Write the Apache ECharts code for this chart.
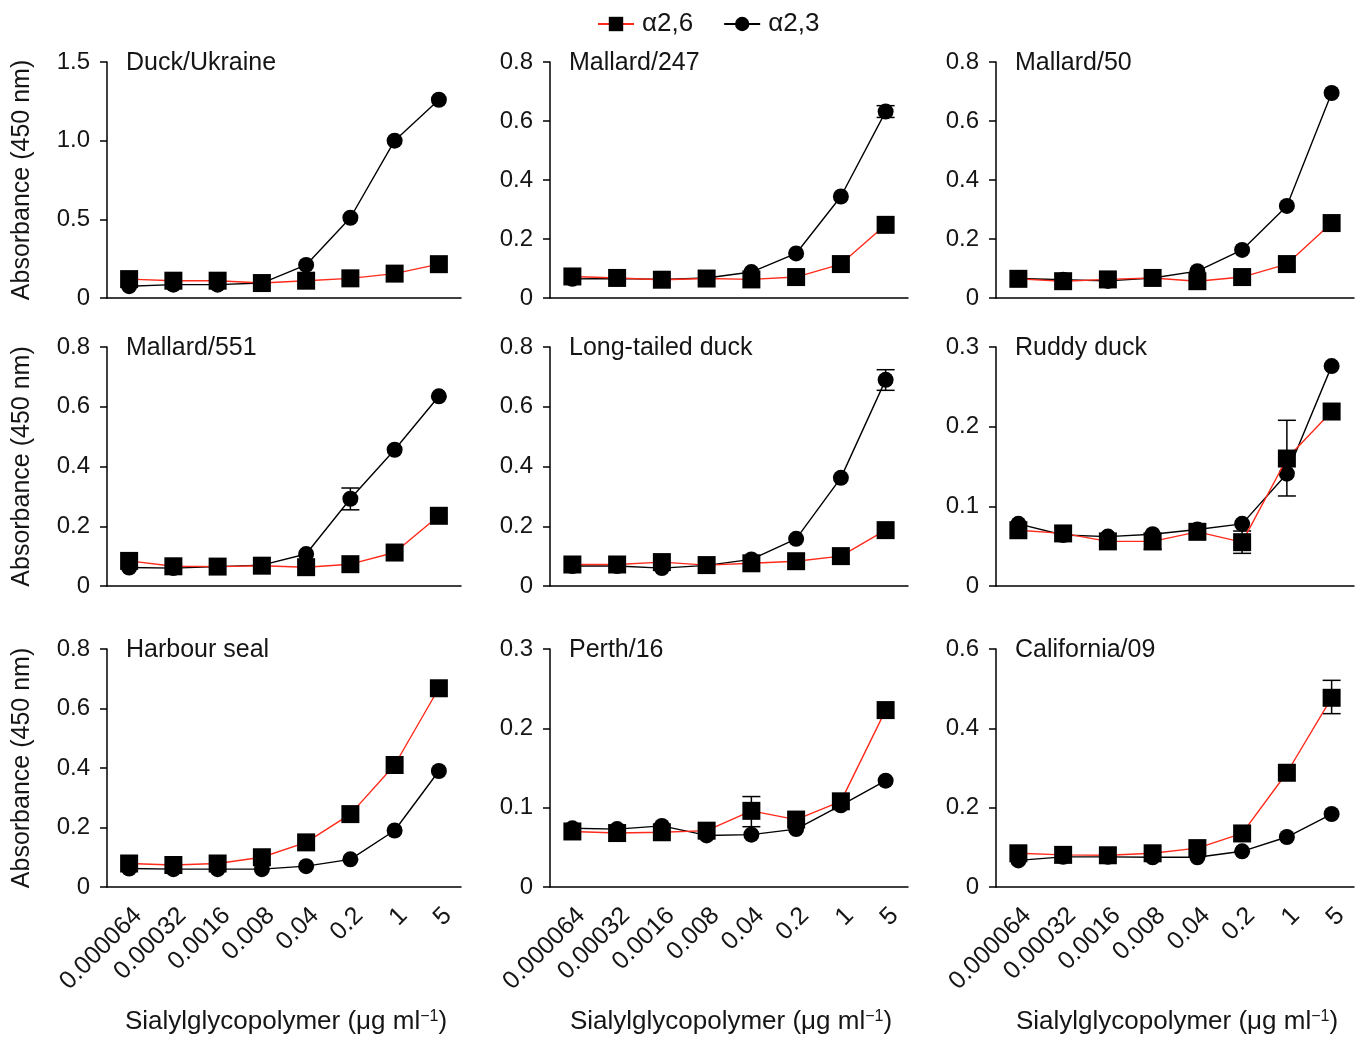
<!DOCTYPE html>
<html><head><meta charset="utf-8">
<script src="https://cdn.jsdelivr.net/npm/echarts@6/dist/echarts.min.js"></script>
<style>html,body{margin:0;padding:0;background:#fff}#c{width:1360px;height:1038px}</style>
</head><body><div id="c"></div>
<script>
const categories = ['0.000064','0.00032','0.0016','0.008','0.04','0.2','1','5'];
const panelNames = ['Duck/Ukraine','Mallard/247','Mallard/50','Mallard/551','Long-tailed duck','Ruddy duck','Harbour seal','Perth/16','California/09'];
const yMax  = [1.5,0.8,0.8,0.8,0.8,0.3,0.8,0.3,0.6];
const yStep = [0.5,0.2,0.2,0.2,0.2,0.1,0.2,0.1,0.2];

const duckUkraine_a26 = [0.12,0.11,0.11,0.095,0.11,0.125,0.155,0.215];
const duckUkraine_a23 = [0.075,0.085,0.085,0.095,0.21,0.51,1.0,1.26];
const mallard247_a26 = [0.073,0.068,0.062,0.066,0.063,0.071,0.115,0.248];
const mallard247_a23 = [0.065,0.066,0.063,0.068,0.088,0.151,0.344,0.632];
const mallard50_a26 = [0.065,0.057,0.063,0.068,0.057,0.071,0.115,0.254];
const mallard50_a23 = [0.066,0.062,0.058,0.068,0.091,0.163,0.312,0.695];
const mallard551_a26 = [0.084,0.066,0.065,0.068,0.063,0.073,0.112,0.235];
const mallard551_a23 = [0.062,0.06,0.065,0.07,0.107,0.292,0.456,0.635];
const longTailed_a26 = [0.072,0.072,0.08,0.07,0.076,0.083,0.1,0.187];
const longTailed_a23 = [0.067,0.067,0.06,0.069,0.089,0.158,0.362,0.69];
const ruddy_a26 = [0.07,0.066,0.056,0.056,0.068,0.055,0.16,0.219];
const ruddy_a23 = [0.078,0.064,0.062,0.065,0.071,0.078,0.141,0.276];
const harbour_a26 = [0.079,0.074,0.079,0.1,0.15,0.245,0.41,0.668];
const harbour_a23 = [0.062,0.06,0.06,0.06,0.07,0.093,0.19,0.39];
const perth_a26 = [0.07,0.068,0.069,0.071,0.096,0.085,0.108,0.223];
const perth_a23 = [0.074,0.073,0.077,0.065,0.066,0.073,0.103,0.134];
const california_a26 = [0.085,0.081,0.08,0.085,0.098,0.135,0.288,0.477];
const california_a23 = [0.067,0.076,0.076,0.075,0.075,0.09,0.126,0.184];

// error bars: [category index, low, high]
const mallard247_a23_err = [[7,0.612,0.652]];
const mallard551_a23_err = [[5,0.255,0.328]];
const longTailed_a23_err = [[7,0.655,0.724]];
const ruddy_a26_err = [[3,0.046,0.066],[5,0.041,0.069],[6,0.113,0.208]];
const perth_a26_err = [[4,0.076,0.114]];
const california_a26_err = [[7,0.437,0.521]];

const a26Data = [duckUkraine_a26,mallard247_a26,mallard50_a26,mallard551_a26,longTailed_a26,ruddy_a26,harbour_a26,perth_a26,california_a26];
const a23Data = [duckUkraine_a23,mallard247_a23,mallard50_a23,mallard551_a23,longTailed_a23,ruddy_a23,harbour_a23,perth_a23,california_a23];
const errData = [
  {i:1, d:mallard247_a23_err},{i:3, d:mallard551_a23_err},{i:4, d:longTailed_a23_err},
  {i:5, d:ruddy_a26_err},{i:7, d:perth_a26_err},{i:8, d:california_a26_err}
];

const FONT = 'Liberation Sans, Arial, Helvetica, sans-serif';
const TXT = '#151515';
const RED = '#ff2a1a';
const colX = [[107,461],[550,908],[996,1354]];
const rowY = [[62,298],[347,586],[649,887]];

const grid=[], xAxis=[], yAxis=[], series=[], graphic=[];
for (let p=0;p<9;p++){
  const r=Math.floor(p/3), c=p%3;
  grid.push({left:colX[c][0], width:colX[c][1]-colX[c][0], top:rowY[r][0], height:rowY[r][1]-rowY[r][0]});
  xAxis.push({type:'category', gridIndex:p, data:categories, boundaryGap:true,
    axisLine:{lineStyle:{color:'#000',width:1.5}},
    axisTick:{alignWithLabel:true, length:9, lineStyle:{color:'#000',width:1.5}},
    axisLabel:{show:r===2, rotate:45, fontSize:25, fontFamily:FONT, color:TXT, margin:16,
      verticalAlign:'top', interval:0},
    splitLine:{show:false}});
  yAxis.push({type:'value', gridIndex:p, min:0, max:yMax[p], interval:yStep[p],
    axisLine:{show:true, lineStyle:{color:'#000',width:1.5}},
    axisTick:{show:true, length:7, lineStyle:{color:'#000',width:1.5}},
    axisLabel:{fontSize:24, fontFamily:FONT, color:TXT, margin:17,
      formatter:v=> v===0?'0':v.toFixed(1)},
    splitLine:{show:false}});
  series.push({name:'α2,3', type:'line', xAxisIndex:p, yAxisIndex:p, data:a23Data[p],
    symbol:'circle', symbolSize:16, itemStyle:{color:'#000'}, lineStyle:{color:'#000',width:1.4},
    z:3, animation:false});
  series.push({name:'α2,6', type:'line', xAxisIndex:p, yAxisIndex:p, data:a26Data[p],
    symbol:'rect', symbolSize:18, itemStyle:{color:'#000'}, lineStyle:{color:RED,width:1.4},
    z:4, animation:false});
  graphic.push({type:'text', x:colX[c][0]+19, y:rowY[r][0]+1,
    style:{text:panelNames[p], font:'25px '+FONT, fill:TXT, verticalAlign:'middle'}});
}
errData.forEach(e=>{
  series.push({type:'custom', xAxisIndex:e.i, yAxisIndex:e.i, data:e.d, z:2, animation:false,
    renderItem:(params,api)=>{
      const lo=api.coord([api.value(0),api.value(1)]);
      const hi=api.coord([api.value(0),api.value(2)]);
      const w=9;
      const st={stroke:'#000',lineWidth:1.5};
      return {type:'group',children:[
        {type:'line',shape:{x1:lo[0],y1:lo[1],x2:hi[0],y2:hi[1]},style:st},
        {type:'line',shape:{x1:lo[0]-w,y1:lo[1],x2:lo[0]+w,y2:lo[1]},style:st},
        {type:'line',shape:{x1:hi[0]-w,y1:hi[1],x2:hi[0]+w,y2:hi[1]},style:st}
      ]};
    }});
});
// y axis titles
for (let r=0;r<3;r++){
  graphic.push({type:'text', x:22, y:(rowY[r][0]+rowY[r][1])/2, rotation:Math.PI/2,
    style:{text:'Absorbance (450 nm)', font:'25px '+FONT, fill:TXT, align:'center', verticalAlign:'middle'}});
}
// x axis titles
for (let c=0;c<3;c++){
  graphic.push({type:'text', x:(colX[c][0]+colX[c][1])/2 + 2, y:1022,
    style:{text:'Sialylglycopolymer (μg ml{sup|−1})', font:'26px '+FONT, fill:TXT, align:'center', verticalAlign:'middle',
      rich:{sup:{fontSize:16, verticalAlign:'top', padding:[0,0,10,0], fontFamily:FONT, fill:TXT}}}});
}

const chart = echarts.init(document.getElementById('c'));
chart.setOption({
  animation:false,
  backgroundColor:'#fff',
  legend:{data:['α2,6','α2,3'], top:6, left:592, itemWidth:36, itemHeight:18, itemGap:30,
    textStyle:{fontSize:26, fontFamily:FONT, color:TXT, padding:[0,0,0,3]}},
  grid, xAxis, yAxis, series, graphic
});
</script></body></html>
